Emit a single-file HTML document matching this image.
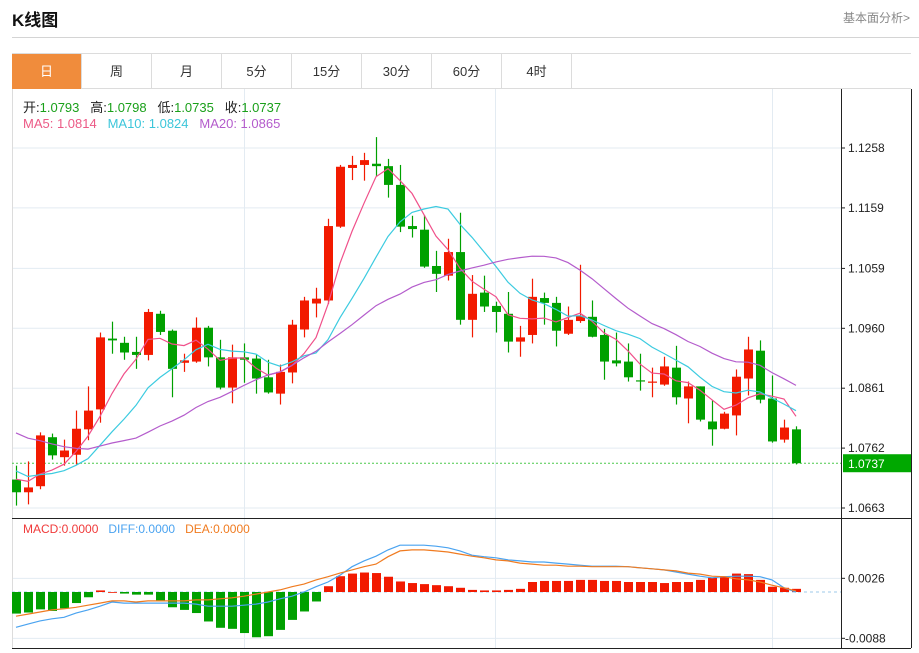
<!DOCTYPE html>
<html><head><meta charset="utf-8">
<style>
body{margin:0;width:919px;height:653px;background:#fff;overflow:hidden;font-family:"Liberation Sans","Noto Sans CJK SC",sans-serif;position:relative}
.title{position:absolute;left:12px;top:6px;font-size:17px;font-weight:bold;color:#111}
.more{position:absolute;right:9px;top:9px;font-size:12px;color:#888}
.sep{position:absolute;left:12px;right:0;top:37px;height:1px;background:#d4d4d4}
.tabs{position:absolute;left:12px;top:53px;height:36px;width:899px;border-top:1px solid #dcdcdc;border-bottom:1px solid #dcdcdc;box-sizing:border-box}
.tab{position:absolute;top:0;width:70px;height:35px;line-height:35px;text-align:center;font-size:13px;color:#333;border-right:1px solid #dcdcdc;box-sizing:border-box}
.tab.on{background:#f08c3c;color:#fff}
.leg{position:absolute;left:23px;font-size:13px;white-space:nowrap}
svg{position:absolute;left:0;top:0}
</style></head><body>
<div class="title">K线图</div>
<div class="more">基本面分析&gt;</div>
<div class="sep"></div>
<div class="tabs">
<div class="tab on" style="left:0">日</div>
<div class="tab" style="left:70px">周</div>
<div class="tab" style="left:140px">月</div>
<div class="tab" style="left:210px">5分</div>
<div class="tab" style="left:280px">15分</div>
<div class="tab" style="left:350px">30分</div>
<div class="tab" style="left:420px">60分</div>
<div class="tab" style="left:490px">4时</div>
</div>
<svg id="chart" width="919" height="653"></svg>
<div class="leg" style="top:97px"><span style="color:#222">开:</span><span style="color:#1aa01a">1.0793</span>&nbsp;&nbsp; <span style="color:#222">高:</span><span style="color:#1aa01a">1.0798</span>&nbsp;&nbsp; <span style="color:#222">低:</span><span style="color:#1aa01a">1.0735</span>&nbsp;&nbsp; <span style="color:#222">收:</span><span style="color:#1aa01a">1.0737</span></div>
<div class="leg" style="top:116px"><span style="color:#ec5a86">MA5: 1.0814</span>&nbsp;&nbsp; <span style="color:#3cc6da">MA10: 1.0824</span>&nbsp;&nbsp; <span style="color:#b45ccc">MA20: 1.0865</span></div>
<div class="leg" style="top:522px;font-size:12px"><span style="color:#f03a3a">MACD:0.0000</span>&nbsp;&nbsp; <span style="color:#4aa3f0">DIFF:0.0000</span>&nbsp;&nbsp; <span style="color:#f07b20">DEA:0.0000</span></div>
<script>
const opens=[1.0710,1.0689,1.0699,1.0780,1.0747,1.0751,1.0793,1.0826,1.0943,1.0936,1.0921,1.0916,1.0984,1.0956,1.0903,1.0905,1.0961,1.0912,1.0862,1.0912,1.0910,1.0879,1.0852,1.0887,1.0958,1.1001,1.1006,1.1128,1.1225,1.1230,1.1232,1.1228,1.1197,1.1129,1.1123,1.1063,1.1047,1.1086,1.0974,1.1019,1.0997,1.0984,1.0938,1.0949,1.1010,1.1002,1.0951,1.0972,1.0979,1.0949,1.0907,1.0905,1.0874,1.0870,1.0867,1.0895,1.0844,1.0864,1.0806,1.0794,1.0816,1.0877,1.0923,1.0844,1.0776,1.0793];
const closes=[1.0689,1.0697,1.0783,1.0750,1.0758,1.0794,1.0824,1.0945,1.0940,1.0920,1.0916,1.0987,1.0954,1.0893,1.0907,1.0961,1.0912,1.0862,1.0912,1.0908,1.0877,1.0854,1.0888,1.0966,1.1006,1.1009,1.1129,1.1227,1.1230,1.1238,1.1228,1.1197,1.1128,1.1124,1.1062,1.1050,1.1086,1.0974,1.1017,1.0996,1.0987,1.0938,1.0945,1.1012,1.1002,1.0956,1.0974,1.0981,1.0946,1.0905,1.0902,1.0879,1.0872,1.0872,1.0897,1.0846,1.0864,1.0809,1.0793,1.0819,1.0880,1.0925,1.0842,1.0773,1.0796,1.0737];
const highs=[1.0733,1.0740,1.0788,1.0786,1.0776,1.0824,1.0864,1.0953,1.0971,1.0946,1.0946,1.0992,1.0989,1.0958,1.0918,1.0978,1.0964,1.0941,1.0933,1.0935,1.0916,1.0908,1.0900,1.0974,1.1012,1.1027,1.1141,1.1230,1.1245,1.1250,1.1276,1.1240,1.1230,1.1146,1.1147,1.1088,1.1108,1.1151,1.1048,1.1047,1.1004,1.1020,1.0964,1.1042,1.1019,1.1012,1.0996,1.1065,1.1006,1.0959,1.0953,1.0935,1.0918,1.0895,1.0913,1.0931,1.0872,1.0864,1.0841,1.0822,1.0892,1.0946,1.0940,1.0882,1.0809,1.0798];
const lows=[1.0667,1.0669,1.0694,1.0743,1.0733,1.0735,1.0775,1.0804,1.0918,1.0908,1.0893,1.0907,1.0949,1.0846,1.0888,1.0903,1.0897,1.0859,1.0836,1.0870,1.0852,1.0852,1.0834,1.0869,1.0945,1.0978,1.1000,1.1126,1.1205,1.1204,1.1212,1.1176,1.1119,1.1110,1.1060,1.1020,1.1039,1.0966,1.0945,1.0987,1.0953,1.0920,1.0913,1.0935,1.0966,1.0930,1.0949,1.0969,1.0945,1.0875,1.0897,1.0872,1.0857,1.0846,1.0865,1.0834,1.0803,1.0806,1.0766,1.0793,1.0783,1.0849,1.0836,1.0771,1.0771,1.0735];
const priorCloses=[1.0872,1.0865,1.0858,1.0850,1.0846,1.0851,1.0845,1.0840,1.0838,1.0835,1.0790,1.0752,1.0731,1.0712,1.0705,1.0715,1.0722,1.0718,1.0709];
const macdHist=[-0.0041,-0.0039,-0.0033,-0.0036,-0.0031,-0.0021,-0.0010,0.0003,0.0000,-0.0003,-0.0005,-0.0005,-0.0016,-0.0029,-0.0034,-0.0040,-0.0056,-0.0068,-0.0070,-0.0078,-0.0086,-0.0084,-0.0072,-0.0053,-0.0037,-0.0018,0.0011,0.0030,0.0035,0.0037,0.0036,0.0029,0.0020,0.0017,0.0015,0.0013,0.0011,0.0008,0.0004,0.0003,0.0003,0.0004,0.0006,0.0019,0.0021,0.0021,0.0021,0.0023,0.0023,0.0021,0.0021,0.0019,0.0019,0.0019,0.0017,0.0019,0.0019,0.0023,0.0027,0.0030,0.0035,0.0034,0.0023,0.0010,0.0008,0.0006];
const diffVals=[-0.0067,-0.0061,-0.0055,-0.0051,-0.0048,-0.0040,-0.0034,-0.0027,-0.0019,-0.0021,-0.0021,-0.0021,-0.0021,-0.0021,-0.0021,-0.0023,-0.0027,-0.0027,-0.0027,-0.0025,-0.0023,-0.0019,-0.0013,-0.0008,0.0000,0.0010,0.0019,0.0032,0.0048,0.0059,0.0068,0.0080,0.0089,0.0089,0.0089,0.0087,0.0084,0.0078,0.0070,0.0067,0.0065,0.0061,0.0059,0.0057,0.0057,0.0055,0.0053,0.0051,0.0049,0.0049,0.0049,0.0048,0.0046,0.0044,0.0042,0.0038,0.0034,0.0030,0.0027,0.0029,0.0030,0.0030,0.0029,0.0023,0.0008,0.0000];
const deaVals=[-0.0046,-0.0042,-0.0038,-0.0034,-0.0032,-0.0029,-0.0025,-0.0021,-0.0017,-0.0017,-0.0019,-0.0017,-0.0017,-0.0017,-0.0017,-0.0015,-0.0015,-0.0013,-0.0011,-0.0008,-0.0004,0.0000,0.0004,0.0010,0.0015,0.0023,0.0029,0.0036,0.0042,0.0048,0.0053,0.0067,0.0078,0.0080,0.0080,0.0078,0.0076,0.0072,0.0068,0.0065,0.0061,0.0059,0.0055,0.0053,0.0051,0.0051,0.0049,0.0049,0.0048,0.0048,0.0048,0.0048,0.0046,0.0044,0.0042,0.0040,0.0036,0.0034,0.0030,0.0029,0.0025,0.0023,0.0019,0.0013,0.0008,0.0002];
const priceTicks=[1.1258,1.1159,1.1059,1.0960,1.0861,1.0762,1.0663];
const macdTicks=[0.0026,-0.0088];
const lastPrice=1.0737;

const NS='http://www.w3.org/2000/svg';
const svg=document.getElementById('chart');
const L=12,R=841,RE=911,T=89,MB=518,B=648;
const xOf=i=>16+i*12;
const yP=v=>148+(1.1258-v)/0.0595*360;
const yM=v=>592-v*5263;
function mk(tag,attrs,parent){const e=document.createElementNS(NS,tag);for(const k in attrs)e.setAttribute(k,attrs[k]);(parent||svg).appendChild(e);return e;}

// grids
const grid=mk('g',{});


priceTicks.forEach(v=>mk('line',{x1:L,x2:R,y1:yP(v),y2:yP(v),stroke:'#e3ebf2','stroke-width':1},grid));
macdTicks.forEach(v=>mk('line',{x1:L,x2:R,y1:yM(v),y2:yM(v),stroke:'#e3ebf2','stroke-width':1},grid));
[244,495,772].forEach(x=>mk('line',{x1:x+0.5,x2:x+0.5,y1:T,y2:B,stroke:'#e3ebf2','stroke-width':1},grid));

// frame
const frame=mk('g',{stroke:'#222','stroke-width':1,fill:'none'});


mk('line',{x1:L+0.5,x2:L+0.5,y1:T,y2:B},frame).setAttribute('stroke','#dcdcdc');
mk('line',{x1:R+0.5,x2:R+0.5,y1:T,y2:B},frame);
mk('line',{x1:RE+0.5,x2:RE+0.5,y1:T,y2:B},frame);
mk('line',{x1:L,x2:RE,y1:MB+0.5,y2:MB+0.5},frame);
mk('line',{x1:L,x2:RE,y1:B+0.5,y2:B+0.5},frame);

// axis labels
priceTicks.forEach(v=>{
  mk('line',{x1:R,x2:R+4,y1:yP(v),y2:yP(v),stroke:'#222'});
  const t=mk('text',{x:848,y:yP(v)+4,'font-size':12,fill:'#222','font-family':'Liberation Sans, sans-serif'});
  t.textContent=v.toFixed(4);
  
  
});
macdTicks.forEach(v=>{
  mk('line',{x1:R,x2:R+4,y1:yM(v),y2:yM(v),stroke:'#222'});
  const t=mk('text',{x:v<0?845:848,y:yM(v)+4,'font-size':12,fill:'#222','font-family':'Liberation Sans, sans-serif'});
  t.textContent=v.toFixed(4);
  
  
});

// last price line & badge
const lp=mk('line',{x1:L,x2:R,y1:yP(lastPrice),y2:yP(lastPrice),stroke:'#4cc94c','stroke-width':1,'stroke-dasharray':'2,2'});


const badge=mk('rect',{x:R+2,y:yP(lastPrice)-9,width:RE-R-2,height:18,fill:'#00a800'});


const bt=mk('text',{x:848,y:yP(lastPrice)+5,'font-size':12,fill:'#fff','font-family':'Liberation Sans, sans-serif'});
bt.textContent=lastPrice.toFixed(4);



// candles
opens.forEach((o,i)=>{
  const c=closes[i],up=c>=o,col=up?'#f21a00':'#00a000',x=xOf(i);
  const g=mk('g',{});
  
  
  mk('line',{x1:x+0.5,x2:x+0.5,y1:yP(highs[i]),y2:yP(lows[i]),stroke:col,'stroke-width':1.2},g);
  const top=yP(Math.max(o,c)),bot=yP(Math.min(o,c));
  mk('rect',{x:x-4,y:top,width:9,height:Math.max(1,bot-top),fill:col},g);
});

// moving averages
const all=priorCloses.concat(closes);
function ma(n){return closes.map((_,i)=>{const e=i+priorCloses.length;let s=0;for(let k=e-n+1;k<=e;k++)s+=all[k];return s/n;});}
[[5,'#f0508a','ma5-line'],[10,'#3ccbe0','ma10-line'],[20,'#b45ccc','ma20-line']].forEach(([n,col,name])=>{
  const m=ma(n);
  const p=mk('polyline',{points:m.map((v,i)=>xOf(i)+','+yP(v).toFixed(1)).join(' '),fill:'none',stroke:col,'stroke-width':1.2});
  
  
});

// MACD
const z=mk('line',{x1:L,x2:R,y1:yM(0),y2:yM(0),stroke:'#9cc8ea','stroke-width':1,'stroke-dasharray':'3,3'});


macdHist.forEach((v,i)=>{
  const y0=yM(0),y1=yM(v);
  const r=mk('rect',{x:xOf(i)-4,y:Math.min(y0,y1),width:9,height:Math.max(0.8,Math.abs(y1-y0)),fill:v>=0?'#f21a00':'#00a000'});
  
  
});
const dl=mk('polyline',{points:diffVals.map((v,i)=>xOf(i)+','+yM(v).toFixed(1)).join(' '),fill:'none',stroke:'#4aa3f0','stroke-width':1.2});


const el=mk('polyline',{points:deaVals.map((v,i)=>xOf(i)+','+yM(v).toFixed(1)).join(' '),fill:'none',stroke:'#f07b20','stroke-width':1.2});


</script>
</body></html>
